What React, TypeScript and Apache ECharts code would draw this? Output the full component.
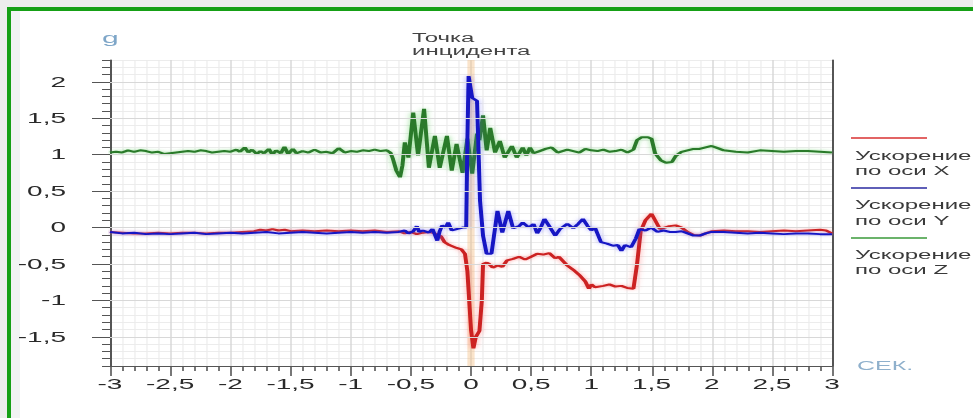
import React, { useEffect, useRef } from 'react';
import * as echarts from 'echarts';

// Acceleration along X (red), [seconds, g]
const accelX: [number, number][] = [
  [-3.0, -0.06], [-2.9, -0.07], [-2.8, -0.08], [-2.7, -0.08], [-2.6, -0.07], [-2.5, -0.08],
  [-2.4, -0.07], [-2.3, -0.07], [-2.2, -0.08], [-2.1, -0.07], [-2.0, -0.07], [-1.9, -0.06],
  [-1.8, -0.05], [-1.75, -0.03], [-1.7, -0.04], [-1.65, -0.02], [-1.6, -0.04], [-1.55, -0.03],
  [-1.5, -0.05], [-1.4, -0.04], [-1.3, -0.05], [-1.2, -0.04], [-1.1, -0.05], [-1.0, -0.04],
  [-0.9, -0.05], [-0.8, -0.04], [-0.7, -0.06], [-0.6, -0.05], [-0.55, -0.08], [-0.5, -0.06],
  [-0.45, -0.09], [-0.4, -0.07], [-0.35, -0.06], [-0.3, -0.08], [-0.25, -0.12], [-0.22, -0.2],
  [-0.18, -0.24], [-0.12, -0.28], [-0.08, -0.3], [-0.05, -0.36], [-0.03, -0.6], [0.0, -1.4],
  [0.02, -1.66], [0.04, -1.5], [0.07, -1.42], [0.09, -1.0], [0.1, -0.5], [0.13, -0.48],
  [0.15, -0.5], [0.18, -0.55], [0.22, -0.52], [0.26, -0.54], [0.3, -0.45], [0.35, -0.43],
  [0.4, -0.4], [0.45, -0.44], [0.5, -0.4], [0.55, -0.36], [0.6, -0.37], [0.65, -0.35],
  [0.7, -0.42], [0.73, -0.4], [0.8, -0.52], [0.85, -0.58], [0.9, -0.65], [0.95, -0.74],
  [0.98, -0.84], [1.0, -0.78], [1.03, -0.82], [1.1, -0.8], [1.15, -0.78], [1.2, -0.81],
  [1.25, -0.8], [1.3, -0.83], [1.35, -0.84], [1.38, -0.5], [1.41, -0.05], [1.45, 0.1],
  [1.5, 0.19], [1.53, 0.1], [1.57, -0.02], [1.65, 0.02], [1.7, 0.03], [1.75, 0.0],
  [1.8, -0.06], [1.85, -0.1], [1.9, -0.11], [1.95, -0.08], [2.0, -0.05], [2.1, -0.04],
  [2.2, -0.05], [2.3, -0.05], [2.4, -0.06], [2.5, -0.05], [2.6, -0.04], [2.7, -0.05],
  [2.8, -0.04], [2.9, -0.03], [2.95, -0.04], [3.0, -0.08],
];

// Acceleration along Y (blue)
const accelY: [number, number][] = [
  [-3.0, -0.06], [-2.9, -0.08], [-2.8, -0.07], [-2.7, -0.09], [-2.6, -0.08], [-2.5, -0.09],
  [-2.4, -0.08], [-2.3, -0.07], [-2.2, -0.09], [-2.1, -0.08], [-2.0, -0.07], [-1.9, -0.08],
  [-1.8, -0.07], [-1.7, -0.06], [-1.6, -0.08], [-1.5, -0.07], [-1.4, -0.06], [-1.3, -0.07],
  [-1.2, -0.08], [-1.1, -0.07], [-1.0, -0.06], [-0.9, -0.07], [-0.8, -0.06], [-0.7, -0.07],
  [-0.6, -0.06], [-0.55, -0.04], [-0.52, -0.08], [-0.48, -0.05], [-0.45, 0.02], [-0.43, -0.06],
  [-0.4, -0.04], [-0.35, -0.07], [-0.32, -0.02], [-0.3, -0.1], [-0.28, -0.18], [-0.26, -0.05],
  [-0.24, 0.03], [-0.21, 0.0], [-0.19, 0.07], [-0.16, -0.04], [-0.12, -0.02], [-0.07, 0.0],
  [-0.04, 0.0], [-0.03, 1.2], [-0.02, 2.08], [0.01, 1.78], [0.03, 1.76], [0.05, 1.74],
  [0.075, 0.37], [0.1, -0.11], [0.13, -0.36], [0.17, -0.36], [0.22, 0.23], [0.26, -0.07],
  [0.31, 0.23], [0.35, -0.01], [0.4, 0.02], [0.43, 0.07], [0.48, 0.0], [0.52, 0.05],
  [0.55, -0.08], [0.58, 0.0], [0.61, 0.12], [0.65, 0.02], [0.7, -0.11], [0.74, -0.02],
  [0.8, 0.05], [0.85, -0.01], [0.89, 0.05], [0.93, 0.12], [0.97, 0.02], [1.0, -0.04],
  [1.03, 0.0], [1.08, -0.2], [1.13, -0.22], [1.18, -0.25], [1.22, -0.24], [1.25, -0.32],
  [1.28, -0.24], [1.33, -0.27], [1.37, -0.15], [1.4, -0.02], [1.45, -0.04], [1.5, 0.0],
  [1.55, -0.06], [1.6, -0.04], [1.65, -0.06], [1.7, -0.06], [1.75, -0.05], [1.8, -0.08],
  [1.85, -0.11], [1.9, -0.11], [1.95, -0.08], [2.0, -0.06], [2.1, -0.06], [2.2, -0.07],
  [2.3, -0.08], [2.4, -0.07], [2.5, -0.08], [2.6, -0.09], [2.7, -0.08], [2.8, -0.08],
  [2.9, -0.09], [3.0, -0.09],
];

// Acceleration along Z (green)
const accelZ: [number, number][] = [
  [-3.0, 1.03], [-2.95, 1.04], [-2.9, 1.03], [-2.85, 1.06], [-2.8, 1.04], [-2.75, 1.06],
  [-2.7, 1.05], [-2.65, 1.03], [-2.6, 1.04], [-2.55, 1.01], [-2.5, 1.02], [-2.45, 1.03],
  [-2.4, 1.04], [-2.35, 1.05], [-2.3, 1.04], [-2.25, 1.06], [-2.2, 1.05], [-2.15, 1.03],
  [-2.1, 1.04], [-2.05, 1.05], [-2.0, 1.04], [-1.95, 1.07], [-1.92, 1.04], [-1.88, 1.1],
  [-1.85, 1.03], [-1.82, 1.07], [-1.78, 1.01], [-1.75, 1.05], [-1.72, 1.02], [-1.68, 1.08],
  [-1.65, 1.0], [-1.62, 1.06], [-1.58, 1.02], [-1.55, 1.11], [-1.52, 1.01], [-1.48, 1.08],
  [-1.45, 1.02], [-1.4, 1.05], [-1.35, 1.03], [-1.3, 1.07], [-1.25, 1.03], [-1.2, 1.04],
  [-1.15, 1.02], [-1.1, 1.09], [-1.05, 1.03], [-1.0, 1.05], [-0.95, 1.04], [-0.9, 1.06],
  [-0.85, 1.05], [-0.8, 1.07], [-0.75, 1.05], [-0.7, 1.06], [-0.67, 1.03], [-0.65, 0.95],
  [-0.62, 0.78], [-0.59, 0.69], [-0.57, 0.85], [-0.55, 1.17], [-0.52, 0.96], [-0.48, 1.58],
  [-0.44, 0.99], [-0.39, 1.63], [-0.35, 0.82], [-0.3, 1.26], [-0.26, 0.82], [-0.2, 1.26],
  [-0.16, 0.78], [-0.12, 1.15], [-0.07, 0.75], [-0.03, 1.22], [0.01, 0.74], [0.05, 1.29],
  [0.07, 1.2], [0.1, 1.54], [0.13, 1.06], [0.16, 1.37], [0.2, 1.03], [0.24, 1.19],
  [0.28, 0.96], [0.34, 1.12], [0.38, 0.96], [0.43, 1.1], [0.46, 0.99], [0.49, 1.1],
  [0.52, 1.02], [0.57, 1.05], [0.62, 1.08], [0.67, 1.1], [0.72, 1.03], [0.8, 1.07],
  [0.85, 1.05], [0.9, 1.03], [0.95, 1.08], [1.0, 1.06], [1.05, 1.05], [1.1, 1.07],
  [1.15, 1.04], [1.2, 1.05], [1.25, 1.07], [1.3, 1.03], [1.35, 1.07], [1.38, 1.2],
  [1.42, 1.24], [1.47, 1.24], [1.5, 1.22], [1.53, 1.02], [1.58, 0.92], [1.62, 0.89],
  [1.67, 0.9], [1.7, 0.98], [1.75, 1.04], [1.8, 1.06], [1.85, 1.08], [1.9, 1.08],
  [1.95, 1.1], [2.0, 1.12], [2.05, 1.09], [2.1, 1.06], [2.2, 1.04], [2.3, 1.03],
  [2.4, 1.06], [2.5, 1.05], [2.6, 1.04], [2.7, 1.05], [2.8, 1.05], [2.9, 1.04], [3.0, 1.03],
];

const yLabelValues = [-1.5, -1, -0.5, 0, 0.5, 1, 1.5, 2];
const seriesNames = ['Ускорение по оси X', 'Ускорение по оси Y', 'Ускорение по оси Z'];
const legendTexts = ['Ускорение\nпо оси X', 'Ускорение\nпо оси Y', 'Ускорение\nпо оси Z'];
const incidentBand = [-0.03, 0.03];
const incidentLabel = 'Точка\nинцидента';
const yUnit = 'g';
const xUnit = 'СЕК.';

const S = 2;
const W = 973 / S;
const H = 418;

export default function App() {
  const ref = useRef<HTMLDivElement>(null);
  useEffect(() => {
    const chart = echarts.init(ref.current!, null, { renderer: 'svg', width: W, height: H });
    const font = "'Liberation Sans', Arial, sans-serif";
    const fmt = (v: number) => String(Math.round(v * 10) / 10).replace('.', ',');
    const axisColor = '#555';
    const labelColor = '#2a2a2a';
    const yMin = -1.9;
    const yMax = 2.3;
    const lineColors = ['#cc2020', '#1616c4', '#2b7a2b'];
    const glowColors = ['rgba(255,90,90,0.55)', 'rgba(90,90,255,0.5)', 'rgba(70,200,70,0.55)'];
    const legendLineColors = ['#d83030', '#2a2aa0', '#3a9a3a'];
    const datas = [accelX, accelY, accelZ];
    const order = [2, 0, 1];

    chart.setOption({
      animation: false,
      textStyle: { fontFamily: font },
      grid: { left: 55, right: W - 416, top: 60, bottom: 52 },
      xAxis: {
        type: 'value', min: -3, max: 3, interval: 0.5,
        axisLine: { show: true, onZero: false, lineStyle: { color: axisColor, width: 1 } },
        axisTick: { show: true, length: 10, lineStyle: { color: axisColor, width: 0.8 } },
        minorTick: { show: true, splitNumber: 5, length: 5, lineStyle: { color: axisColor, width: 0.8 } },
        axisLabel: { formatter: fmt, fontSize: 14, color: labelColor, margin: 11, fontFamily: font },
        splitLine: { show: true, lineStyle: { color: '#d6d6d6', width: 0.7 } },
        minorSplitLine: { show: true, lineStyle: { color: '#ececec', width: 0.6 } },
      },
      yAxis: [
        {
          type: 'value', min: yMin, max: yMax, interval: 0.1, position: 'left',
          axisLine: { show: true, onZero: false, lineStyle: { color: axisColor, width: 1 } },
          axisTick: { show: true, length: 4, lineStyle: { color: axisColor, width: 1 } },
          axisLabel: { show: false },
          splitLine: { show: true, lineStyle: { color: '#ececec', width: 1 } },
        },
        {
          type: 'value', min: yMin, max: yMax, position: 'left',
          axisLine: { show: false, onZero: false },
          axisTick: { show: true, length: 9, customValues: yLabelValues, lineStyle: { color: axisColor, width: 1 } },
          axisLabel: { show: true, customValues: yLabelValues, formatter: fmt, fontSize: 14, color: labelColor, margin: 22, fontFamily: font },
          splitLine: { show: false },
        },
        {
          type: 'value', min: yMin, max: yMax, position: 'right',
          axisLine: { show: true, onZero: false, lineStyle: { color: axisColor, width: 1 } },
          axisTick: { show: false }, axisLabel: { show: false }, splitLine: { show: false },
        },
      ],
      series: [
        {
          type: 'line', name: 'grid', data: [], z: 1, silent: true,
          markLine: {
            silent: true, symbol: ['none', 'none'], label: { show: false },
            lineStyle: { color: '#d8d8d8', width: 1, type: 'solid' },
            data: yLabelValues.map((v) => ({ yAxis: v })),
          },
          markArea: {
            silent: true,
            itemStyle: { color: 'rgba(245,195,140,0.45)' },
            data: [[{ xAxis: incidentBand[0] }, { xAxis: incidentBand[1] }]],
          },
        },
        ...order.map((i) => ({
          type: 'line', name: seriesNames[i], data: datas[i], z: 2,
          symbol: 'none', smooth: false,
          lineStyle: { color: lineColors[i], width: 2, shadowColor: glowColors[i], shadowBlur: 3 },
          itemStyle: { color: lineColors[i] },
        })),
      ],
      graphic: [
        {
          type: 'text', left: 51, top: 30, silent: true,
          style: { text: yUnit, fontSize: 15, fill: '#7ea6c8', fontFamily: font },
        },
        {
          type: 'text', left: 206, top: 31, silent: true,
          style: { text: incidentLabel, fontSize: 12, lineHeight: 13.5, fill: '#444', fontFamily: font },
        },
        {
          type: 'text', left: 428.5, top: 359, silent: true,
          style: { text: xUnit, fontSize: 12.5, fill: '#8fb0cc', fontFamily: font },
        },
        ...legendTexts.flatMap((t, i) => [
          {
            type: 'line', silent: true,
            shape: { x1: 425.5, y1: 138 + 50 * i, x2: 463.5, y2: 138 + 50 * i },
            style: { stroke: legendLineColors[i], lineWidth: 1.4 },
          },
          {
            type: 'text', left: 427.5, top: 148 + 49.5 * i, silent: true,
            style: { text: t, fontSize: 12, lineHeight: 15.5, fill: '#3a3a3a', fontFamily: font },
          },
        ]),
      ],
    });
    return () => chart.dispose();
  }, []);

  return (
    <div style={{ position: 'fixed', left: 0, top: 0, width: 973, height: 418, background: '#ededed', overflow: 'hidden' }}>
      <div style={{ position: 'absolute', left: 7, top: 7, width: 1100, height: 600, border: '4px solid #16a016', background: '#fff' }} />
      <div style={{ position: 'absolute', left: 11, top: 11, width: 9, height: 420, background: '#f1f3f3' }} />
      <div
        ref={ref}
        style={{ position: 'absolute', left: 0, top: 0, width: W, height: H, transform: `scaleX(${S})`, transformOrigin: '0 0' }}
      />
    </div>
  );
}
